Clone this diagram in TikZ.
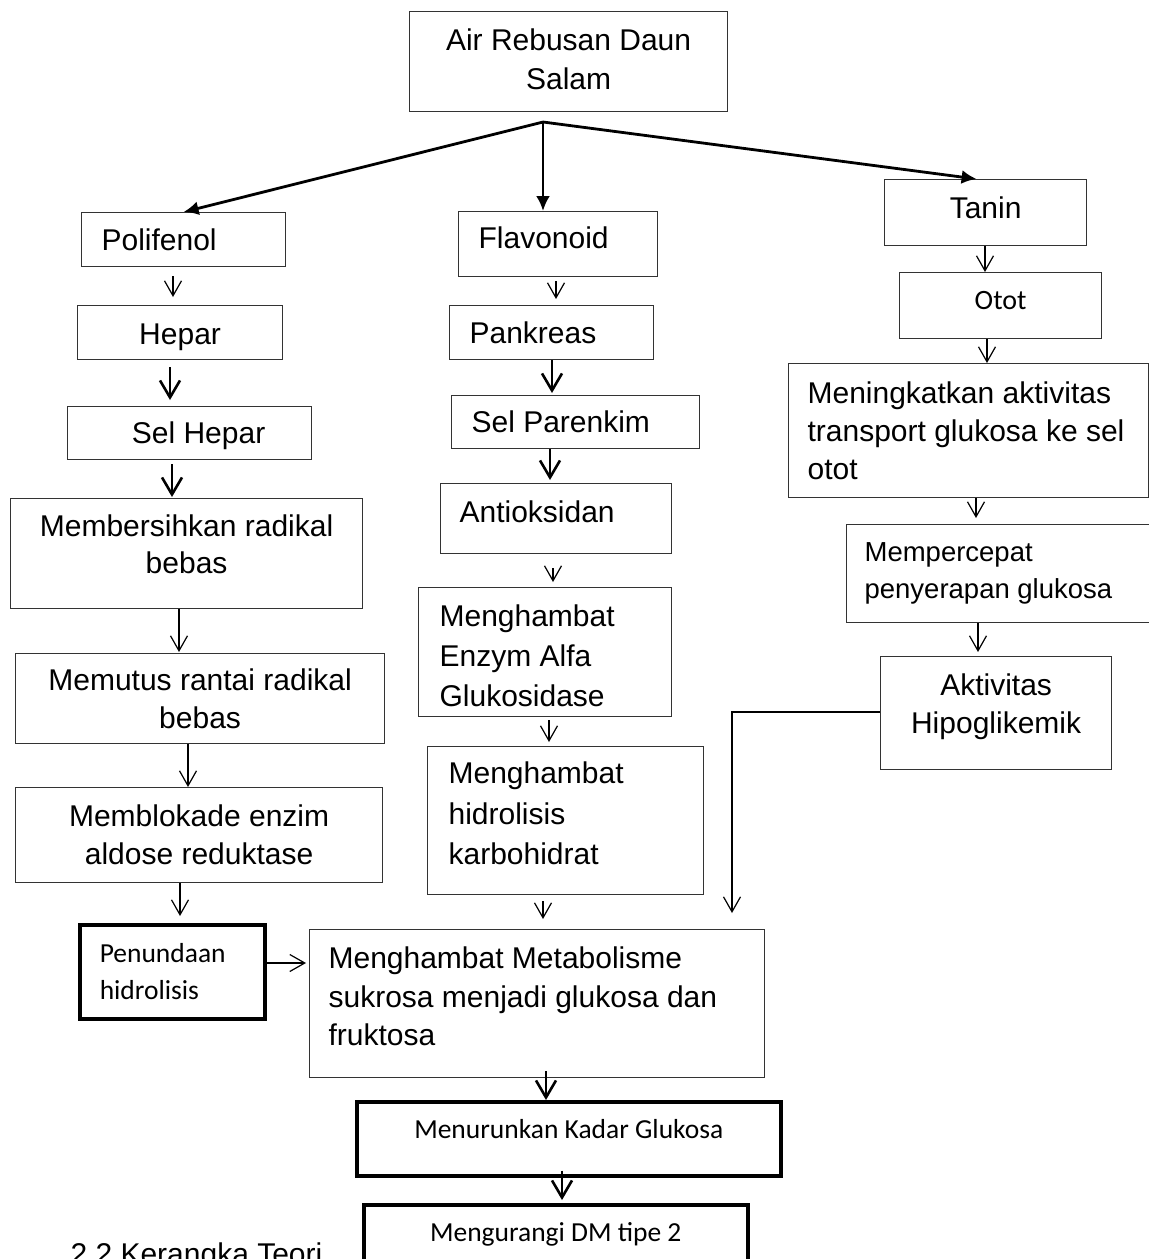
\documentclass[tikz,border=0pt]{standalone}
\usepackage{fontspec}
\setmainfont{Liberation Sans}
\newfontfamily\calibri{Carlito}
\usetikzlibrary{arrows.meta}
% invisible struts to nudge a text up (extra depth) or down (extra height)
\newcommand\bawah[1]{\rule[-#1pt]{0pt}{#1pt}}
\newcommand\atas[1]{\rule{0pt}{#1pt}}

\begin{document}
\begin{tikzpicture}[
  x=1pt, y=-1pt,
  chartbox/.style={
    draw=black!80,
    line width=1.2pt,
    inner sep=0pt,
    anchor=north west,
    font=\fontsize{30}{39}\selectfont,
  },
  boldbox/.style={
    chartbox,
    draw=black,
    line width=3.5pt,
    font=\calibri\fontsize{27.5}{37}\selectfont,
  },
  cbox/.style 2 args={minimum width=#1, minimum height=#2, align=center},
  lbox/.style n args={3}{minimum width=#1, minimum height=#2,
    inner xsep=#3, text width=#1-2*#3, align=flush left},
  fanarrow/.style={line width=2.8pt, -{Latex[length=15pt,width=14pt]}},
  flowarrow/.style={line width=1.2pt, -{Straight Barb[length=15pt,width=17pt]}},
  heavyarrow/.style={line width=2.6pt, -{Straight Barb[length=17pt,width=20pt]}}
]
\useasboundingbox (0,0) rectangle (1149,1259);
\clip (0,0) rectangle (1149,1259);

\node[chartbox, cbox={318}{100}] (daun) at (409,11) {Air Rebusan Daun\\Salam\bawah{5}};
\node[chartbox, lbox={204}{54}{20}] (polifenol) at (81,212) {Polifenol};
\node[chartbox, lbox={199}{65}{20}] (flavonoid) at (458,211) {Flavonoid\bawah{12}};
\node[chartbox, cbox={202}{66}] (tanin) at (884,179) {Tanin\bawah{10}};
\node[chartbox, cbox={205}{54}] (hepar) at (77,305) {\atas{30}Hepar};
\node[chartbox, lbox={204}{54}{20}] (pankreas) at (449,305) {Pankreas};
\node[chartbox, cbox={202}{66}, font=\calibri\fontsize{28}{34}\selectfont] (otot) at (899,272) {Otot\bawah{10}};
\node[chartbox, cbox={244}{53}] (selhepar) at (67,406) {\atas{28}\hspace*{18pt}Sel Hepar};
\node[chartbox, lbox={248}{53}{20}] (parenkim) at (451,395) {Sel Parenkim};
\node[chartbox, lbox={360}{134}{19}, font=\fontsize{30}{38}\selectfont] (transport) at (788,363)
  {Meningkatkan aktivitas\\transport glukosa ke sel\\otot};
\node[chartbox, cbox={352}{110}, font=\fontsize{30}{37}\selectfont] (radikal) at (10,498)
  {Membersihkan radikal\\bebas\bawah{18}};
\node[chartbox, lbox={231}{70}{19}] (antioksidan) at (440,483) {Antioksidan\bawah{14}};
\node[chartbox, lbox={330}{98}{18}, font=\fontsize{27.5}{37}\selectfont] (serap) at (846,524)
  {Mempercepat\\penyerapan glukosa};
\node[chartbox, lbox={253}{129}{21}, font=\fontsize{30}{40}\selectfont] (enzim) at (418,587)
  {\atas{30}Menghambat\\Enzym Alfa\\Glukosidase};
\node[chartbox, cbox={369}{90}, font=\fontsize{30}{38}\selectfont] (rantai) at (15,653)
  {Memutus rantai radikal\\bebas};
\node[chartbox, cbox={231}{113}, font=\fontsize{30}{38}\selectfont] (hipo) at (880,656)
  {Aktivitas\\Hipoglikemik\bawah{18}};
\node[chartbox, lbox={276}{148}{21}, font=\fontsize{30}{40.5}\selectfont] (hidrolisis) at (427,746)
  {Menghambat\\hidrolisis\\karbohidrat\bawah{14}};
\node[chartbox, cbox={367}{95}, font=\fontsize{30}{38}\selectfont] (aldose) at (15,787)
  {Memblokade enzim\\aldose reduktase};
\node[boldbox, lbox={185}{94}{20}] (tunda) at (78,923) {Penundaan\\hidrolisis};
\node[chartbox, lbox={455}{148}{19}, font=\fontsize{30}{38.5}\selectfont] (metabolisme) at (309,929)
  {Menghambat Metabolisme\\sukrosa menjadi glukosa dan\\fruktosa\bawah{14}};
\node[boldbox, cbox={424}{74}] (glukosa) at (355,1100) {Menurunkan Kadar Glukosa\bawah{20}};
\node[boldbox, cbox={384}{60}] (dm) at (362,1203) {Mengurangi DM tipe 2};
\node[anchor=base west, font=\fontsize{30}{36}\selectfont] (judul) at (67,1264.5) {2.2 Kerangka Teori};

% three branches from the top
\coordinate (pecah) at (543,122);
\draw[fanarrow] (pecah) -- (polifenol.north);
\draw[fanarrow] (pecah) -- (pecah |- flavonoid.north);
\draw[fanarrow] (pecah) -- ([xshift=-9pt]tanin.north);

% thin steps
\foreach \a/\b/\x/\s/\e in {polifenol/hepar/173/9pt/8pt, radikal/rantai/179/0pt/1pt,
    rantai/aldose/188/0pt/0pt, aldose/tunda/180/0pt/7pt, flavonoid/pankreas/556/4pt/6pt,
    antioksidan/enzim/553/14pt/5pt, enzim/hidrolisis/549/3pt/4pt,
    hidrolisis/metabolisme/543/6pt/10pt, tanin/otot/985/0pt/0pt, otot/transport/987/0pt/0pt,
    transport/serap/976/0pt/6pt, serap/hipo/978/0pt/4pt}
  \draw[flowarrow, shorten <=\s, shorten >=\e] (\a.south -| \x,0) -- (\b.north -| \x,0);

% heavy steps
\foreach \a/\b/\x/\s/\e in {hepar/selhepar/170/7pt/6pt, selhepar/radikal/172/4pt/1pt,
    pankreas/parenkim/552/0pt/2pt, parenkim/antioksidan/550/0pt/3pt,
    metabolisme/glukosa/546/-7pt/0pt, glukosa/dm/562/-7pt/3pt}
  \draw[heavyarrow, shorten <=\s, shorten >=\e] (\a.south -| \x,0) -- (\b.north -| \x,0);

\draw[flowarrow, shorten >=3pt] (tunda.east |- 0,963) -- (metabolisme.west |- 0,963);
\coordinate (hipoujung) at (732,913);
\draw[flowarrow] (hipo.west |- 0,712) -| (hipoujung);
\end{tikzpicture}
\end{document}
